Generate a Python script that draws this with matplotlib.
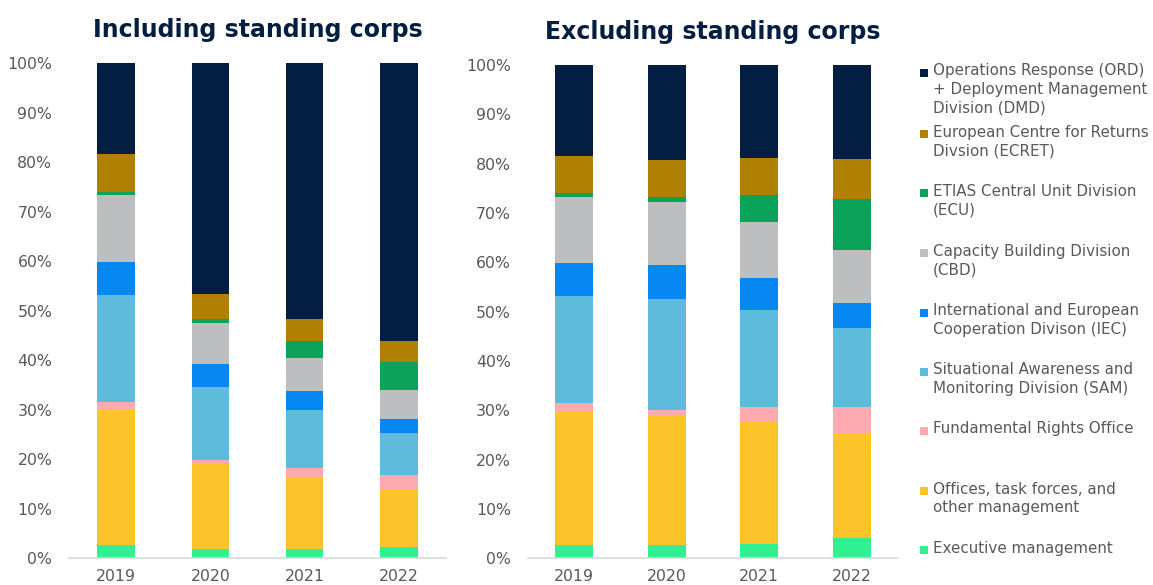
import matplotlib
matplotlib.use("Agg")
import matplotlib.pyplot as plt
from matplotlib.patches import Rectangle
import numpy as np

years = ["2019", "2020", "2021", "2022"]

series_names = [
    "Executive management",
    "Offices, task forces, and\nother management",
    "Fundamental Rights Office",
    "Situational Awareness and\nMonitoring Division (SAM)",
    "International and European\nCooperation Divison (IEC)",
    "Capacity Building Division\n(CBD)",
    "ETIAS Central Unit Division\n(ECU)",
    "European Centre for Returns\nDivsion (ECRET)",
    "Operations Response (ORD)\n+ Deployment Management\nDivision (DMD)",
]
colors = ["#30F090", "#FCC428", "#FFAAB0", "#5FBBDC", "#0787F2",
          "#BDBEC0", "#0BA35A", "#B08000", "#041E42"]

# Including standing corps (percent shares, bottom to top)
incl_exec = [2.7, 1.8, 1.8, 2.3]
incl_offices = [27.5, 17.3, 14.6, 11.6]
incl_fro = [1.4, 0.8, 1.8, 2.9]
incl_sam = [21.6, 14.8, 11.8, 8.6]
incl_iec = [6.7, 4.6, 3.8, 2.8]
incl_cbd = [13.5, 8.3, 6.7, 5.7]
incl_ecu = [0.5, 0.7, 3.3, 5.8]
incl_ecret = [7.7, 5.0, 4.5, 4.3]
incl_ord = [18.4, 46.7, 51.7, 56.0]

# Excluding standing corps
excl_exec = [2.7, 2.6, 3.0, 4.1]
excl_offices = [27.2, 26.4, 24.7, 21.2]
excl_fro = [1.5, 1.1, 2.9, 5.4]
excl_sam = [21.8, 22.5, 19.7, 15.9]
excl_iec = [6.7, 6.9, 6.5, 5.2]
excl_cbd = [13.4, 12.7, 11.3, 10.6]
excl_ecu = [0.7, 1.0, 5.6, 10.4]
excl_ecret = [7.6, 7.5, 7.5, 8.1]
excl_ord = [18.4, 19.3, 18.8, 19.1]

incl = [incl_exec, incl_offices, incl_fro, incl_sam, incl_iec, incl_cbd, incl_ecu, incl_ecret, incl_ord]
excl = [excl_exec, excl_offices, excl_fro, excl_sam, excl_iec, excl_cbd, excl_ecu, excl_ecret, excl_ord]

W, H = 1153, 585
fig = plt.figure(figsize=(W / 100, H / 100), dpi=100)

title_color = "#041E42"
tick_color = "#595959"


def draw(ax, data, title, width):
    x = np.arange(len(years))
    bottom = np.zeros(len(years))
    for vals, c in zip(data, colors):
        v = np.array(vals)
        ax.bar(x, v, width, bottom=bottom, color=c, edgecolor="none", linewidth=0)
        bottom += v
    ax.set_xlim(-0.5, len(years) - 0.5)
    ax.set_ylim(0, 100)
    ax.set_yticks(np.arange(0, 101, 10))
    ax.set_yticklabels([f"{t}%" for t in range(0, 101, 10)])
    ax.set_xticks(x)
    ax.set_xticklabels(years)
    ax.tick_params(axis="both", length=0, colors=tick_color, labelsize=11.3)
    ax.tick_params(axis="y", pad=12)
    ax.tick_params(axis="x", pad=8)
    for s in ["top", "right", "left"]:
        ax.spines[s].set_visible(False)
    ax.spines["bottom"].set_color("#D9D9D9")
    ax.spines["bottom"].set_linewidth(1.2)
    ax.set_title(title, fontsize=17, fontweight="bold", color=title_color, pad=19)


ax1 = fig.add_axes([69 / W, 1 - 558.3 / H, 377 / W, (558.3 - 63.3) / H])
draw(ax1, incl, "Including standing corps", 0.40)
ax2 = fig.add_axes([527.7 / W, 1 - 558.3 / H, 370.6 / W, (558.3 - 65) / H])
draw(ax2, excl, "Excluding standing corps", 0.41)

# Legend (top to bottom: reversed stack order)
entry_y = [73, 134, 193, 253, 313, 372, 431, 491, 550]
for name, c, yy in zip(series_names[::-1], colors[::-1], entry_y):
    fig.patches.append(Rectangle((920 / W, 1 - (yy + 4) / H), 8 / W, 8 / H,
                                 transform=fig.transFigure, facecolor=c,
                                 edgecolor="none"))
    fig.text(933 / W, 1 - (yy - 9.5) / H, name, fontsize=10.9, color=tick_color,
             va="top", ha="left", linespacing=1.3)

fig.savefig("out.png", dpi=100)
